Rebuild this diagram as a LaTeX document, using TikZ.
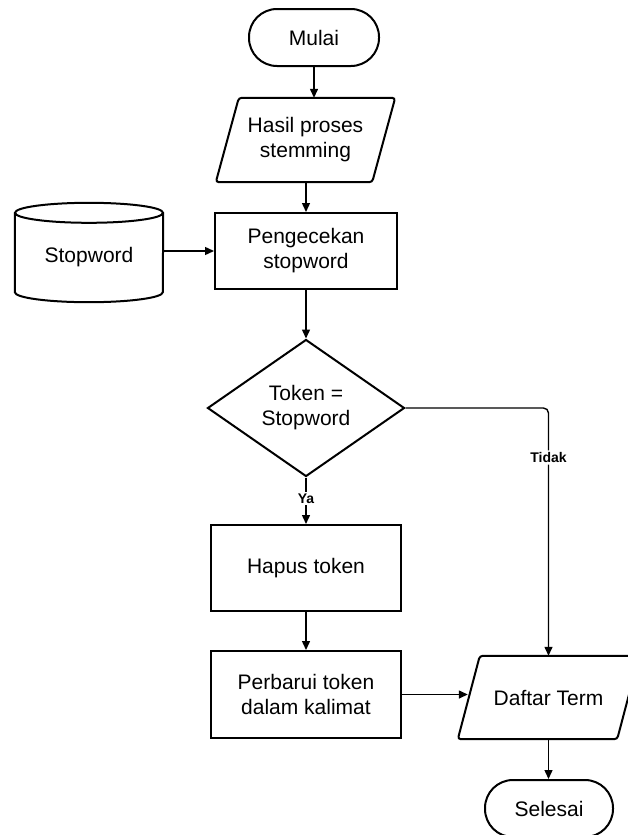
\documentclass[tikz,border=0pt]{standalone}
\usepackage{fontspec}
\setmainfont{Liberation Sans}
\usetikzlibrary{arrows.meta,shapes.geometric,calc}

\begin{document}
\begin{tikzpicture}[x=1pt,y=-1pt,
  txt/.style={font=\fontsize{21}{25}\selectfont, align=center, inner sep=0pt},
  outline/.style={draw=black, line width=2pt},
  terminal/.style={txt, outline, rectangle, rounded corners=28pt,
    minimum width=130pt, minimum height=57pt},
  procbox/.style={txt, outline, rectangle, minimum width=190pt, minimum height=86pt},
  decision/.style={txt, outline, diamond, minimum width=197pt, minimum height=137pt, aspect=1.44},
  iobox/.style={txt, rectangle, minimum height=83pt},
  flow/.style={draw=black, line width=1.4pt, -{Triangle[length=9pt,width=8pt]}},
  branch/.style={font=\fontsize{14}{16}\selectfont\bfseries, fill=white, inner sep=2pt}
]
\useasboundingbox (0,0) rectangle (627,835);

% start
\node[terminal] (mulai) at (314,37.5) {Mulai};

% input: stemming result
\node[iobox, minimum width=156pt, minimum height=84pt] (hasil) at (305.5,140) {Hasil proses\\stemming};
\draw[outline, rounded corners=3pt]
  ($(hasil.north west)+(11.5,0)$) -- ($(hasil.north east)+(11.5,0)$) --
  ($(hasil.south east)+(-11.5,0)$) -- ($(hasil.south west)+(-11.5,0)$) -- cycle;

% stopword check
\node[procbox, minimum width=182pt, minimum height=76pt] (cek) at (306,251) {Pengecekan\\stopword};

% stopword database: body below the top ellipse
\node[txt, minimum width=148pt, minimum height=89pt] (stop) at (89,257.5) {Stopword};
\draw[outline]
  (stop.north west) -- ($(stop.south west)+(0,-10)$)
  arc[start angle=180, end angle=360, x radius=74, y radius=-10]
  -- (stop.north east);
\draw[outline] (stop.north) ellipse[x radius=74, y radius=10];

% decision
\node[decision] (dec) at (306,408) {Token =\\Stopword};

% remove token
\node[procbox] (hapus) at (306,568) {Hapus token};

% update sentence
\node[procbox, minimum height=87pt] (baru) at (306,694.5) {Perbarui token\\dalam kalimat};

% output: term list
\node[iobox, minimum width=159pt] (daftar) at (548.5,697.5) {Daftar Term};
\draw[outline, rounded corners=3pt]
  ($(daftar.north west)+(11,0)$) -- ($(daftar.north east)+(11,0)$) --
  ($(daftar.south east)+(-11,0)$) -- ($(daftar.south west)+(-11,0)$) -- cycle;

% end
\node[terminal, minimum width=128pt] (selesai) at (549,808.5) {Selesai};

% connectors
\draw[flow] (mulai.south) -- (mulai.south |- hasil.north);
\draw[flow] (hasil.south -| cek.north) -- (cek.north);
\draw[flow] (cek.west -| stop.east) -- (cek.west);
\draw[flow] (cek.south) -- (dec.north);
\draw[flow] (dec.south) -- node[branch, pos=0.45] (ya) {Ya} (hapus.north);
\draw[flow] (baru.east) -- ($(baru.east -| daftar.west)+(-1,0)$);
\draw[flow] (hapus.south) -- (baru.north);
\draw[flow, rounded corners=5pt] (dec.east) -| node[branch, pos=0.6] (tidak) {Tidak} (daftar.north);
\draw[flow] (daftar.south) -- (daftar.south |- selesai.north);
\end{tikzpicture}
\end{document}
